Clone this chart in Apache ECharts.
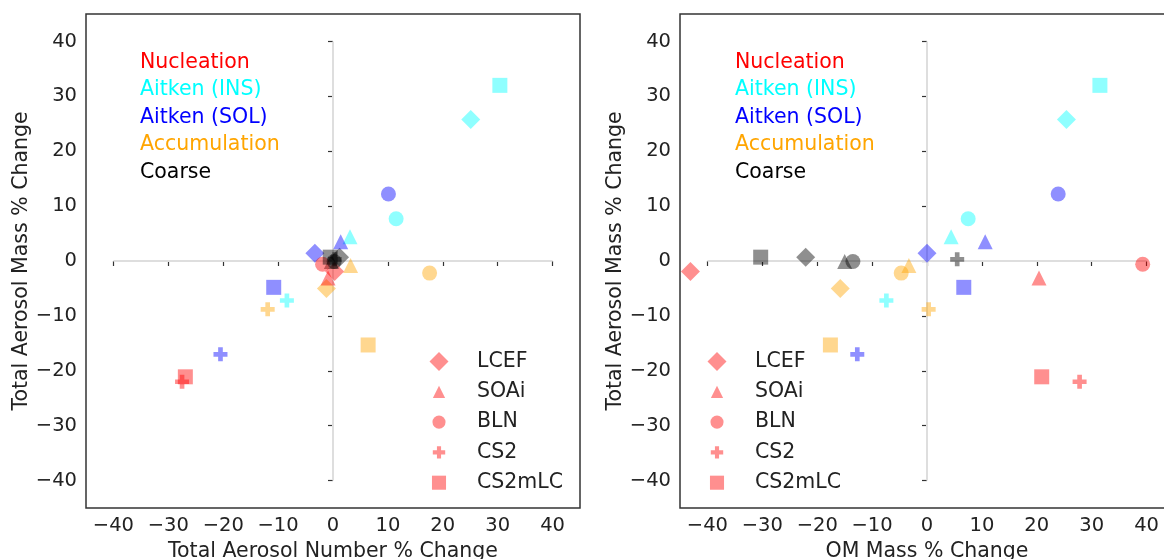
<!DOCTYPE html>
<html>
<head>
<meta charset="utf-8">
<script src="https://cdn.jsdelivr.net/npm/echarts@6/dist/echarts.min.js"></script>
<style>
  html, body { margin: 0; padding: 0; background: #fff; }
  #chart { width: 1164px; height: 559px; }
</style>
</head>
<body>
<div id="chart"></div>
<script>
// 模态 (mode) 和 方案 (scheme)
var modes = ['Nucleation', 'Aitken (INS)', 'Aitken (SOL)', 'Accumulation', 'Coarse'];
var modeColors = ['255,0,0', '0,255,255', '0,0,255', '255,165,0', '0,0,0'];
var schemes = ['LCEF', 'SOAi', 'BLN', 'CS2', 'CS2mLC'];
var tickValues = [-40, -30, -20, -10, 0, 10, 20, 30, 40];

// y: Total Aerosol Mass % Change, one value per mode
var massLCEF = [-1.9, 25.8, 1.4, -5.0, 0.7];
var massSOAi = [-3.1, 4.4, 3.5, -0.8, -0.1];
var massBLN = [-0.6, 7.7, 12.2, -2.2, -0.1];
var massCS2 = [-22.0, -7.2, -17.0, -8.8, 0.3];
var massCS2mLC = [-21.1, 32.0, -4.8, -15.3, 0.7];

// left x: Total Aerosol Number % Change
var numLCEF = [0.3, 25.1, -3.3, -1.2, 1.2];
var numSOAi = [-0.9, 3.1, 1.4, 3.2, -0.3];
var numBLN = [-1.9, 11.5, 10.1, 17.6, 0.2];
var numCS2 = [-27.5, -8.4, -20.5, -11.9, 0.3];
var numCS2mLC = [-26.9, 30.4, -10.8, 6.4, -0.5];

// right x: OM Mass % Change
var omLCEF = [-43.1, 25.4, 0.0, -15.8, -22.1];
var omSOAi = [20.4, 4.4, 10.6, -3.3, -15.0];
var omBLN = [39.3, 7.5, 23.9, -4.7, -13.5];
var omCS2 = [27.8, -7.4, -12.7, 0.3, 5.5];
var omCS2mLC = [20.9, 31.5, 6.7, -17.6, -30.3];

var massBy = [massLCEF, massSOAi, massBLN, massCS2, massCS2mLC];
var numBy = [numLCEF, numSOAi, numBLN, numCS2, numCS2mLC];
var omBy = [omLCEF, omSOAi, omBLN, omCS2, omCS2mLC];

var plusPath = 'path://M1,0H2V1H3V2H2V3H1V2H0V1H1Z';
var symbols = ['diamond', 'triangle', 'circle', plusPath, 'rect'];
var symbolSizes = [19, 15, 15, 14, 15];

// 图例图标: 用 path 保持比例, 加空点撑开包围盒让图标变小
function padBox(lo, hi) {
    return 'M' + lo + ',' + lo + 'L' + lo + ',' + lo + 'M' + hi + ',' + hi + 'L' + hi + ',' + hi;
}
var legendIcons = [
    'path://M1,0L2,1L1,2L0,1Z',
    'path://M1,0L2,2L0,2Z' + padBox(-0.55, 2.55),
    'path://M0,1A1,1,0,1,1,2,1A1,1,0,1,1,0,1Z' + padBox(-0.45, 2.45),
    'path://M1,0H2V1H3V2H2V3H1V2H0V1H1Z' + padBox(-0.8, 3.8),
    'path://M0,0H2V2H0Z' + padBox(-0.35, 2.35)
];

var font = 'DejaVu Sans';
var alpha = 0.55;

var chart = echarts.init(document.getElementById('chart'));

function minus(v) {
    return String(v).replace('-', '\u2212');
}

function makeAxis(idx, type, name) {
    return {
        gridIndex: idx,
        type: 'value',
        min: -45,
        max: 45,
        name: name,
        nameLocation: 'middle',
        nameGap: type === 'x' ? 31 : 44,
        nameTextStyle: { fontFamily: font, fontSize: 20.5, color: '#222' },
        axisLine: { show: false },
        splitLine: { show: false },
        axisTick: {
            show: true, inside: false, length: 5,
            lineStyle: { color: '#333', width: 1.2 },
            customValues: tickValues
        },
        axisLabel: {
            fontFamily: font, fontSize: 19.5, color: '#222',
            margin: type === 'x' ? 8 : 9,
            customValues: tickValues,
            formatter: minus
        }
    };
}

var series = [];
var grids = [{ left: 86, top: 14, width: 494, height: 494 }, { left: 680, top: 14, width: 494, height: 494 }];

[numBy, omBy].forEach(function (xs, g) {
    // 零线
    series.push({
        type: 'line', xAxisIndex: g, yAxisIndex: g, silent: true, symbol: 'none', z: 1,
        lineStyle: { color: '#dedede', width: 2 },
        data: [[-40, 0], [40, 0]]
    });
    series.push({
        type: 'line', xAxisIndex: g, yAxisIndex: g, silent: true, symbol: 'none', z: 1,
        lineStyle: { color: '#dedede', width: 2 },
        data: [[0, -40], [0, 40]]
    });
    schemes.forEach(function (s, i) {
        series.push({
            name: s,
            type: 'scatter',
            xAxisIndex: g,
            yAxisIndex: g,
            symbol: symbols[i],
            symbolSize: symbolSizes[i],
            z: 3,
            itemStyle: { color: 'rgba(255,0,0,' + alpha + ')' },
            data: modes.map(function (m, k) {
                return {
                    value: [xs[i][k], massBy[i][k]],
                    itemStyle: { color: 'rgba(' + modeColors[k] + ',' + alpha + ')' }
                };
            })
        });
    });
});

var graphic = [];
[140, 735].forEach(function (x0) {
    modes.forEach(function (m, k) {
        graphic.push({
            type: 'text',
            left: x0,
            top: 62 + k * 27.5 - 10,
            style: {
                text: m,
                fill: 'rgb(' + modeColors[k] + ')',
                font: '20.5px "DejaVu Sans"'
            }
        });
    });
});

var legendData = schemes.map(function (s, i) { return { name: s, icon: legendIcons[i] }; });

// 图例: 图标中心约在 left+9.5, 文字离图标中心约 38px
function makeLegend(markerX) {
    return {
        orient: 'vertical',
        left: markerX - 9.5,
        top: 351,
        padding: 0,
        itemWidth: 66,
        itemHeight: 19,
        itemGap: 9.3,
        symbolKeepAspect: true,
        selectedMode: false,
        data: legendData,
        textStyle: { fontFamily: font, fontSize: 20.5, color: '#222', lineHeight: 20 }
    };
}

var option = {
    animation: false,
    backgroundColor: '#fff',
    grid: grids.map(function (g) {
        return Object.assign({ show: true, borderColor: '#333', borderWidth: 1.5, outerBoundsMode: 'none', containLabel: false }, g);
    }),
    xAxis: [makeAxis(0, 'x', 'Total Aerosol Number % Change'), makeAxis(1, 'x', 'OM Mass % Change')],
    yAxis: [makeAxis(0, 'y', 'Total Aerosol Mass % Change'), makeAxis(1, 'y', 'Total Aerosol Mass % Change')],
    legend: [makeLegend(439), makeLegend(717)],
    graphic: graphic,
    series: series
};

chart.setOption(option);
</script>
</body>
</html>
